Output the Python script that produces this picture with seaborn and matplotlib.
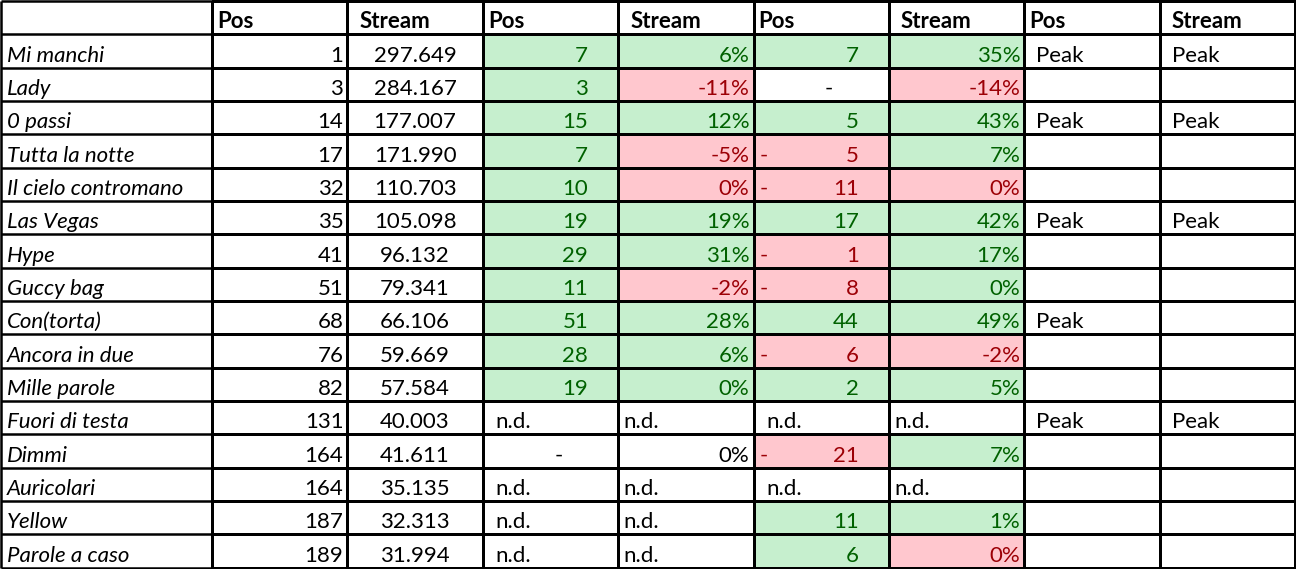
import numpy as np
import pandas as pd
import matplotlib
matplotlib.use("Agg")
import matplotlib.pyplot as plt
from matplotlib.colors import ListedColormap
import seaborn as sns

# ---------------- data ----------------
titles = ["Mi manchi", "Lady", "0 passi", "Tutta la notte", "Il cielo contromano",
          "Las Vegas", "Hype", "Guccy bag", "Con(torta)", "Ancora in due",
          "Mille parole", "Fuori di testa", "Dimmi", "Auricolari", "Yellow",
          "Parole a caso"]
pos = [1, 3, 14, 17, 32, 35, 41, 51, 68, 76, 82, 131, 164, 164, 187, 189]
streams = ["297.649", "284.167", "177.007", "171.990", "110.703", "105.098",
           "96.132", "79.341", "66.106", "59.669", "57.584", "40.003",
           "41.611", "35.135", "32.313", "31.994"]
pos_w1 = [7, 3, 15, 7, 10, 19, 29, 11, 51, 28, 19, None, 0, None, None, None]
stream_w1 = ["6%", "-11%", "12%", "-5%", "0%", "19%", "31%", "-2%", "28%", "6%",
             "0%", None, "0%", None, None, None]
pos_w2 = [7, 0, 5, -5, -11, 17, -1, -8, 44, -6, 2, None, -21, None, 11, 6]
stream_w2 = ["35%", "-14%", "43%", "7%", "0%", "42%", "17%", "0%", "49%", "-2%",
             "5%", None, "7%", None, "1%", "0%"]
peak_pos = ["Peak", "", "Peak", "", "", "Peak", "", "", "Peak", "", "", "Peak",
            "", "", "", ""]
peak_stream = ["Peak", "", "Peak", "", "", "Peak", "", "", "", "", "", "Peak",
               "", "", "", ""]
# conditional-format flags: g = better (green), r = worse (red), "" = none
flag_pw1 = ["g"] * 11 + ["", "", "", "", ""]
flag_sw1 = ["g", "r", "g", "r", "r", "g", "g", "r", "g", "g", "g", "", "", "", "", ""]
flag_pw2 = ["g", "", "g", "r", "r", "g", "r", "r", "g", "r", "g", "", "r", "", "g", "g"]
flag_sw2 = ["g", "r", "g", "g", "r", "g", "g", "g", "g", "r", "g", "", "g", "", "g", "r"]
headers = ["Pos", "Stream", "Pos", "Stream", "Pos", "Stream", "Pos", "Stream"]

# ---------------- style ----------------
sns.set_theme(style="white")
plt.rcParams["font.family"] = ["Lato", "DejaVu Sans"]

W, H = 1296, 569
FS = 16
LW = 1.8
GREEN_BG, RED_BG = "#C6EFCE", "#FFC7CE"
GREEN_TX, RED_TX = "#006100", "#9C0006"
code = {"": 0, "g": 1, "r": 2}
txtcol = {0: "black", 1: GREEN_TX, 2: RED_TX}

nrows = len(titles) + 1
top, bottom = 1.0, 567.5
left, split, right = 1.0, 212.0, 1295.0
row_h = (bottom - top) / nrows

fig = plt.figure(figsize=(W / 100, H / 100), dpi=100)
fig.patch.set_facecolor("white")

# fill-code matrix for the 8 value columns
n = len(titles)
fills = np.zeros((nrows, 8), dtype=int)
fills[1:, 2] = [code[f] for f in flag_pw1]
fills[1:, 3] = [code[f] for f in flag_sw1]
fills[1:, 4] = [code[f] for f in flag_pw2]
fills[1:, 5] = [code[f] for f in flag_sw2]
df = pd.DataFrame(fills, columns=[f"c{i}" for i in range(8)])

ax = fig.add_axes([split / W, (H - bottom) / H, (right - split) / W, (bottom - top) / H])
sns.heatmap(df, ax=ax, cmap=ListedColormap(["white", GREEN_BG, RED_BG]), vmin=-0.5, vmax=2.5,
            cbar=False, linewidths=LW, linecolor="black", xticklabels=False, yticklabels=False)
ax.collections[0].set_clip_on(False)
ax.set_xlabel("")
ax.set_ylabel("")

col_w = (right - split) / 8.0
def px(p):  # px -> column units
    return p / col_w
base_off = 1 - 6.0 / row_h

def put(col, row, s, ha, pad, color="black", weight="normal", style="normal"):
    if ha == "left":
        x = col + px(pad)
    elif ha == "right":
        x = col + 1 - px(pad)
    else:
        x = col + 0.5 + px(pad)
    ax.text(x, row + base_off, s, ha=ha, va="baseline", fontsize=FS, color=color,
            fontweight=weight, fontstyle=style, clip_on=False)

# headers
for j, h in enumerate(headers):
    put(j, 0, h, "left", 5 if h == "Pos" else 12, weight="bold")

for i in range(n):
    r = i + 1
    put(0, r, str(pos[i]), "right", 4)
    put(1, r, streams[i], "center", 0)
    for j, vals, flags in ((2, pos_w1, flag_pw1), (4, pos_w2, flag_pw2)):
        v = vals[i]
        c = txtcol[code[flags[i]]]
        if v is None:
            put(j, r, "n.d.", "left", 13)
        elif v == 0:
            put(j, r, "-", "center", 8, color=c)
        elif v < 0:
            put(j, r, "-", "left", 6, color=c)
            put(j, r, str(-v), "right", 30, color=c)
        else:
            put(j, r, str(v), "right", 30, color=c)
    for j, vals, flags in ((3, stream_w1, flag_sw1), (5, stream_w2, flag_sw2)):
        v = vals[i]
        c = txtcol[code[flags[i]]]
        if v is None:
            put(j, r, "n.d.", "left", 5)
        else:
            put(j, r, v, "right", 4, color=c)
    if peak_pos[i]:
        put(6, r, peak_pos[i], "left", 12)
    if peak_stream[i]:
        put(7, r, peak_stream[i], "left", 12)

# first (title) column
ax0 = fig.add_axes([left / W, (H - bottom) / H, (split - left) / W, (bottom - top) / H])
ax0.set_xlim(0, 1)
ax0.set_ylim(nrows, 0)
ax0.axis("off")
ax0.hlines(np.arange(nrows + 1), 0, 1, colors="black", linewidth=LW, clip_on=False)
ax0.vlines([0], 0, nrows, colors="black", linewidth=LW, clip_on=False)
w0 = split - left
for i, t in enumerate(titles):
    ax0.text(6.0 / w0, i + 1 + base_off, t, ha="left", va="baseline", fontsize=FS,
             fontstyle="italic", color="black", clip_on=False)

fig.savefig("out.png", dpi=100, facecolor="white")
